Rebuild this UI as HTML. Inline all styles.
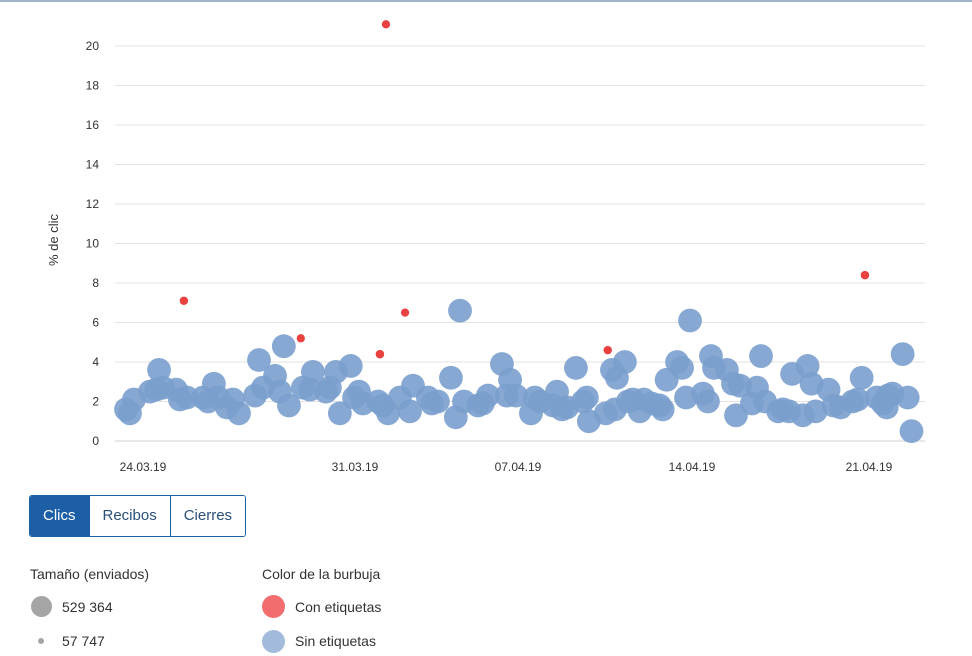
<!DOCTYPE html>
<html><head><meta charset="utf-8">
<style>
body{margin:0;width:972px;height:656px;background:#fff;font-family:"Liberation Sans",sans-serif;overflow:hidden;position:relative}
.topline{position:absolute;left:0;top:0;width:972px;height:2px;background:#9fb3cc}
svg{position:absolute;left:0;top:0}
.btns{position:absolute;left:29px;top:495px;display:flex;height:40px;border:1px solid #1c5fa6;border-radius:3px;overflow:hidden}
.btn{font-size:15px;color:#2a4f7a;padding:0 13px;line-height:40px;border-left:1px solid #1c5fa6;background:#fff}
.btn.on{background:#1c5fa6;color:#fff;border-left:none}
.lg{position:absolute;font-size:14px;color:#333}
.dot{position:absolute;border-radius:50%}
</style></head><body>
<div class="topline"></div>
<svg id="chart" width="972" height="490"></svg>
<div class="btns">
<div class="btn on">Clics</div>
<div class="btn">Recibos</div>
<div class="btn">Cierres</div>
</div>
<div class="lg" style="left:30px;top:566px">Tamaño (enviados)</div>
<div class="dot" style="left:31px;top:596px;width:21px;height:21px;background:#a5a5a5"></div>
<div class="lg" style="left:62px;top:599px">529 364</div>
<div class="dot" style="left:38px;top:638px;width:6px;height:6px;background:#a5a5a5"></div>
<div class="lg" style="left:62px;top:633px">57 747</div>
<div class="lg" style="left:262px;top:566px">Color de la burbuja</div>
<div class="dot" style="left:262px;top:595px;width:23px;height:23px;background:#f26d6d"></div>
<div class="lg" style="left:295px;top:599px">Con etiquetas</div>
<div class="dot" style="left:262px;top:630px;width:23px;height:23px;background:#a3bbdb"></div>
<div class="lg" style="left:295px;top:633px">Sin etiquetas</div>
<script>
const yTicks=[0,2,4,6,8,10,12,14,16,18,20];
const xTickDays=[0,7,14,21,28];
const xTickLabels=["24.03.19","31.03.19","07.04.19","14.04.19","21.04.19"];
const blueDays=[-0.56,-0.43,-0.30,0.23,0.43,0.53,0.66,1.09,1.22,1.45,1.98,2.15,2.34,2.48,2.77,2.97,3.17,3.70,3.83,3.96,4.36,4.52,4.65,4.82,5.28,5.51,5.61,6.04,6.17,6.37,6.50,6.86,6.97,7.17,7.34,7.99,8.20,8.42,8.93,9.36,9.49,10.13,10.30,10.56,11.12,11.33,11.51,11.68,12.28,12.49,12.71,13.31,13.52,13.66,13.91,14.52,14.68,14.88,15.41,15.57,15.77,15.97,16.33,16.61,16.77,16.85,17.53,17.78,17.90,17.98,18.30,18.42,18.62,18.90,19.06,19.38,19.70,19.82,19.98,20.40,20.60,20.76,20.92,21.43,21.63,21.75,21.87,22.38,22.62,22.74,22.90,23.37,23.57,23.73,23.89,24.41,24.60,24.84,24.96,25.38,25.57,25.73,25.89,26.40,26.60,26.88,27.35,27.55,27.71,28.30,28.54,28.70,28.74,28.93,29.33,29.53,29.68];
const blueClick=[1.6,1.4,2.1,2.5,2.6,3.6,2.7,2.6,2.1,2.2,2.2,2.0,2.9,2.2,1.7,2.1,1.4,2.3,4.1,2.7,3.3,2.5,4.8,1.8,2.7,2.6,3.5,2.5,2.7,3.5,1.4,3.8,2.2,2.5,1.9,2.0,1.8,1.4,2.2,1.5,2.8,2.2,1.9,2.0,3.2,1.2,6.6,2.0,1.8,1.9,2.3,3.9,2.3,3.1,2.3,1.4,2.2,2.0,1.8,2.5,1.6,1.7,3.7,2.0,2.2,1.0,1.4,3.6,1.6,3.2,4.0,2.0,2.1,1.5,2.1,1.9,1.8,1.6,3.1,4.0,3.7,2.2,6.1,2.4,2.0,4.3,3.7,3.6,2.9,1.3,2.8,1.9,2.7,4.3,2.0,1.5,1.6,1.5,3.4,1.3,3.8,2.9,1.5,2.6,1.8,1.7,2.0,2.1,3.2,2.2,1.9,1.7,2.3,2.4,4.4,2.2,0.5];
const blueSent=480000;
const redDays=[1.35,5.21,8.07,8.33,9.15,17.61,27.84];
const redClick=[7.1,5.2,4.4,21.1,6.5,4.6,8.4];
const redSent=[60000,57747,62000,57747,57747,60000,62000];
const maxSent=529364;

const svg=document.getElementById('chart');
const NS='http://www.w3.org/2000/svg';
const y0=441,yPx=19.75;
function yScale(v){return y0-v*yPx;}
const dDom=[0,7,14,21,28],dRng=[143,355,518,692,869];
function xScale(d){
  let i=0;
  if(d<=dDom[0])i=0;else if(d>=dDom[dDom.length-1])i=dDom.length-2;else{while(d>dDom[i+1])i++;}
  return dRng[i]+(d-dDom[i])*(dRng[i+1]-dRng[i])/(dDom[i+1]-dDom[i]);
}
function rScale(s){return 12.5*Math.sqrt(s/maxSent);}
function mk(tag,attrs){const e=document.createElementNS(NS,tag);for(const k in attrs)e.setAttribute(k,attrs[k]);svg.appendChild(e);return e;}
yTicks.forEach(v=>{
  const l=mk('line',{x1:115,x2:925,y1:yScale(v),y2:yScale(v),stroke:v===0?'#d0d0d0':'#e3e3e3','stroke-width':1});
  
  
  const t=mk('text',{x:99,y:yScale(v)+4,'text-anchor':'end','font-size':12,fill:'#333','font-family':'Liberation Sans, sans-serif'});
  t.textContent=v;
  
  
});
xTickDays.forEach((d,i)=>{
  const t=mk('text',{x:xScale(d),y:471,'text-anchor':'middle','font-size':12,fill:'#333','font-family':'Liberation Sans, sans-serif'});
  t.textContent=xTickLabels[i];
  
  
});
const yt=mk('text',{x:0,y:0,transform:'translate(58,240) rotate(-90)','text-anchor':'middle','font-size':13,fill:'#333','font-family':'Liberation Sans, sans-serif'});
yt.textContent='% de clic';


blueDays.forEach((d,i)=>{
  const c=mk('circle',{cx:xScale(d),cy:yScale(blueClick[i]),r:rScale(blueSent),fill:'rgb(122,158,205)','fill-opacity':0.9});
  
  
});
redDays.forEach((d,i)=>{
  const c=mk('circle',{cx:xScale(d),cy:yScale(redClick[i]),r:rScale(redSent[i]),fill:'#e8413f'});
  
  
});
</script>
</body></html>
